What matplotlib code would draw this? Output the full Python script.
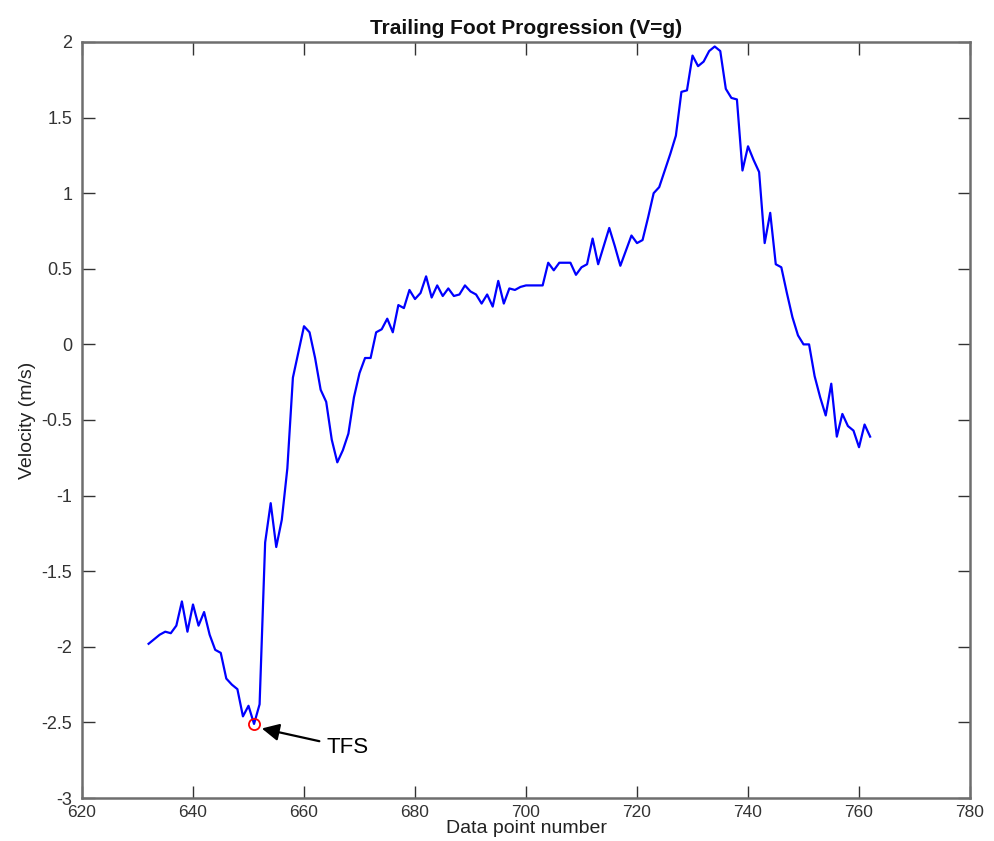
import numpy as np
import matplotlib
matplotlib.use("Agg")
import matplotlib.pyplot as plt

plt.rcParams['font.family'] = ['Liberation Sans Narrow', 'Liberation Sans', 'DejaVu Sans']

# Trailing foot velocity, one sample per data point
start_index = 632
velocity = [
    -1.98, -1.95, -1.92, -1.90, -1.91, -1.86, -1.70, -1.90, -1.72, -1.86,
    -1.77, -1.92, -2.02, -2.04, -2.21, -2.25, -2.28, -2.46, -2.39, -2.51,
    -2.38, -1.31, -1.05, -1.34, -1.16, -0.82, -0.22, -0.05, 0.12, 0.08,
    -0.09, -0.30, -0.38, -0.63, -0.78, -0.70, -0.59, -0.35, -0.19, -0.09,
    -0.09, 0.08, 0.10, 0.17, 0.08, 0.26, 0.24, 0.36, 0.30, 0.34,
    0.45, 0.31, 0.39, 0.32, 0.37, 0.32, 0.33, 0.39, 0.35, 0.33,
    0.27, 0.33, 0.25, 0.42, 0.27, 0.37, 0.36, 0.38, 0.39, 0.39,
    0.39, 0.39, 0.54, 0.49, 0.54, 0.54, 0.54, 0.46, 0.51, 0.53,
    0.70, 0.53, 0.65, 0.77, 0.65, 0.52, 0.62, 0.72, 0.67, 0.69,
    0.84, 1.00, 1.04, 1.15, 1.26, 1.38, 1.67, 1.68, 1.91, 1.84,
    1.87, 1.94, 1.97, 1.94, 1.69, 1.63, 1.62, 1.15, 1.31, 1.22,
    1.14, 0.67, 0.87, 0.53, 0.51, 0.34, 0.18, 0.06, 0.00, -0.00,
    -0.21, -0.35, -0.47, -0.26, -0.61, -0.46, -0.54, -0.57, -0.68, -0.53,
    -0.61,
]
tfs_index = 651
tfs_value = -2.51

x_ticks = [620, 640, 660, 680, 700, 720, 740, 760, 780]
y_ticks = [-3, -2.5, -2, -1.5, -1, -0.5, 0, 0.5, 1, 1.5, 2]
y_tick_labels = ['-3', '-2.5', '-2', '-1.5', '-1', '-0.5', '0', '0.5', '1', '1.5', '2']

points = np.arange(start_index, start_index + len(velocity))

fig = plt.figure(figsize=(9.95, 8.41), dpi=100)
ax = fig.add_axes([0.0824, 0.0511, 0.8925, 0.899])

ax.plot(points, velocity, color='#0000ff', lw=1.6)
ax.plot([tfs_index], [tfs_value], 'o', mfc='none', mec='#ff0000', ms=8, mew=1.3)

ax.annotate('TFS', xy=(tfs_index + 1.4, tfs_value - 0.03),
            xytext=(664.0, -2.665), fontsize=16, va='center', ha='left',
            arrowprops=dict(arrowstyle='-|>', color='k', lw=1.6,
                            mutation_scale=26, shrinkA=3, shrinkB=0))

ax.set_xlim(620, 780)
ax.set_ylim(-3, 2)
ax.set_xticks(x_ticks)
ax.set_yticks(y_ticks)
ax.set_yticklabels(y_tick_labels)
ax.tick_params(direction='in', length=9, width=1, colors='#333333',
               top=True, right=True, labelsize=13, labelcolor='#333333')
ax.tick_params(axis='x', pad=5, labelsize=12.5)
ax.tick_params(axis='y', pad=7)

for spine in ax.spines.values():
    spine.set_color('#6e6e6e')
    spine.set_linewidth(1.8)

ax.set_title('Trailing Foot Progression (V=g)', fontsize=15, fontweight='bold',
             pad=6, color='#111111')
ax.set_xlabel('Data point number', fontsize=14, labelpad=0, color='#222222')
ax.set_ylabel('Velocity (m/s)', fontsize=14, labelpad=4, color='#222222')

fig.savefig('out.png', dpi=100)
